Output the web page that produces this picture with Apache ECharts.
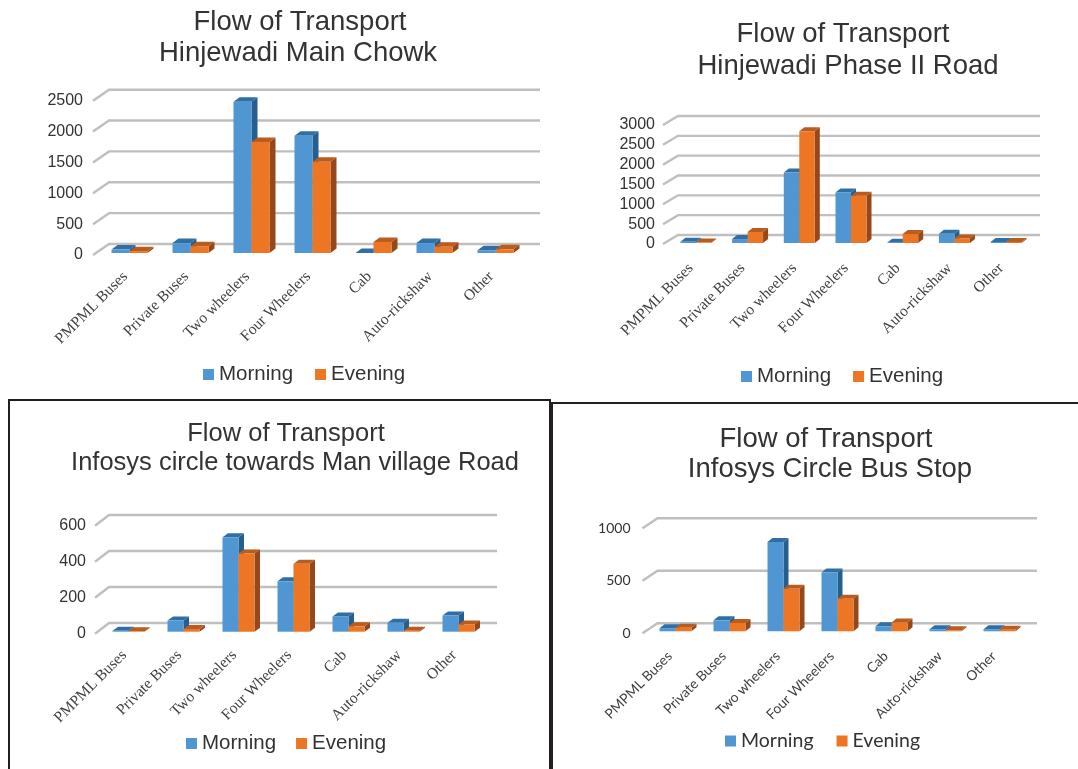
<!DOCTYPE html>
<html><head><meta charset="utf-8">
<style>html,body{margin:0;padding:0;background:#fff}#c{width:1078px;height:769px}</style>
<script src="https://cdn.jsdelivr.net/npm/echarts@6/dist/echarts.min.js"></script>
</head><body><div id="c"></div>
<script>
const categories = ['PMPML Buses','Private Buses','Two wheelers','Four Wheelers','Cab','Auto-rickshaw','Other'];
const seriesNames = ['Morning','Evening'];

const morningMainChowk = [55,160,2450,1900,0,160,45];
const eveningMainChowk = [30,110,1800,1480,180,100,60];
const ticksMainChowk = [0,500,1000,1500,2000,2500];

const morningPhase2 = [30,100,1780,1275,5,235,25];
const eveningPhase2 = [10,277,2820,1190,227,116,25];
const ticksPhase2 = [0,500,1000,1500,2000,2500,3000];

const morningManVillage = [5,62,525,280,85,50,90];
const eveningManVillage = [3,15,435,378,30,5,40];
const ticksManVillage = [0,200,400,600];

const morningBusStop = [30,105,850,560,48,20,20];
const eveningBusStop = [35,80,405,310,85,10,15];
const ticksBusStop = [0,500,1000];

const titleMainChowk = ['Flow of Transport','Hinjewadi Main Chowk'];
const titlePhase2 = ['Flow of Transport','Hinjewadi Phase II Road'];
const titleManVillage = ['Flow of Transport','Infosys circle towards Man village Road'];
const titleBusStop = ['Flow of Transport','Infosys Circle Bus Stop'];

const SANS='"Liberation Sans", Arial, sans-serif', SERIF='"Liberation Serif", serif', LATO='Lato, sans-serif';
const COL=[{f:'#5096d3',t:'#2f6fa6',s:'#255f8e'},{f:'#ec7623',t:'#b85c1f',s:'#94481c'}];

const panels=[
 {m:morningMainChowk,e:eveningMainChowk,ticks:ticksMainChowk,title:titleMainChowk,
  grid:{left:99,top:100.7,width:427,height:154.3},stub:6,dx:16,dy:11,backRight:540,lift:2,barW:18,margin:16,depth:[6,4.5],
  titlePos:[[300,9,27.5],[298,40,27.5]],legend:{left:203,top:364,size:20.5,gap:22,w:11,font:SANS},
  tickFont:[SANS,16],tickPad:5,catFont:[SERIF,15.5],catMargin:15,catPad:6},
 {m:morningPhase2,e:eveningPhase2,ticks:ticksPhase2,title:titlePhase2,
  grid:{left:670,top:125,width:362,height:119},stub:7,dx:15,dy:9,backRight:1040,lift:1,barW:15.5,margin:15,depth:[5,4],
  titlePos:[[843,21,27.5],[848,53,27.5]],legend:{left:741,top:366,size:20.5,gap:22,w:11,font:SANS},
  tickFont:[SANS,16],tickPad:8,catFont:[SERIF,15.5],catMargin:17,catPad:7},
 {m:morningManVillage,e:eveningManVillage,ticks:ticksManVillage,title:titleManVillage,
  grid:{left:101,top:525.7,width:385,height:108},stub:6,dx:14,dy:10.7,backRight:497,lift:2,barW:16,margin:15,depth:[5.5,4],
  titlePos:[[286,421,25.5],[295,450,25.5]],legend:{left:186,top:733,size:20.5,gap:20,w:11,font:SANS},
  tickFont:[SANS,16],tickPad:2,catFont:[SERIF,15.5],catMargin:15,catPad:6},
 {m:morningBusStop,e:eveningBusStop,ticks:ticksBusStop,title:titleBusStop,
  grid:{left:648.5,top:528.3,width:378,height:105},stub:6,dx:15,dy:10,backRight:1037,lift:2,barW:16,margin:18,depth:[5,4],
  titlePos:[[826,426,27.5],[830,456,27.5]],legend:{left:725,top:731,size:19.5,gap:23,w:11,font:LATO},
  tickFont:[LATO,14],tickPad:4,catFont:[LATO,13.8],catMargin:15,catPad:8}
];

function poly(points,fill){return {type:'polygon',shape:{points},style:{fill,stroke:null}};}

function barRenderer(p,idx){
  const c=COL[idx];
  return function(params,api){
    const pt=api.coord([api.value(0),api.value(1)]);
    const base=api.coord([api.value(0),0])[1]-p.lift;
    const top=pt[1]-p.lift;
    const x0=pt[0]+(idx===0?-p.barW:0), x1=x0+p.barW, d=p.depth[0], h=p.depth[1];
    return {type:'group',children:[
      poly([[x1,top],[x1+d,top-h],[x1+d,base-h],[x1,base]],c.s),
      poly([[x0,top],[x0+d,top-h],[x1+d,top-h],[x1,top]],c.t),
      poly([[x0,top],[x1,top],[x1,base],[x0,base]],c.f)
    ]};
  };
}
function gridRenderer(p){
  return function(params,api){
    const y=api.coord([0,api.value(1)])[1];
    const x=params.coordSys.x-p.stub;
    return {type:'polyline',shape:{points:[[x,y],[x+p.dx,y-p.dy],[p.backRight,y-p.dy]]},
      style:{stroke:'#bfbfbf',lineWidth:2.4,fill:null}};
  };
}

const option={animation:false,backgroundColor:'#fff',title:[],legend:[],grid:[],xAxis:[],yAxis:[],series:[],
 graphic:[
  {type:'polyline',shape:{points:[[9,769],[9,400],[550,400],[550,769]]},style:{stroke:'#231f20',lineWidth:2,fill:null},z:50},
  {type:'polyline',shape:{points:[[552,769],[552,403],[1078,403]]},style:{stroke:'#231f20',lineWidth:2,fill:null},z:50}
 ]};

panels.forEach((p,i)=>{
  p.title.forEach((t,k)=>{
    const tp=p.titlePos[k];
    option.title.push({text:t,left:tp[0],top:tp[1],textAlign:'center',padding:0,
      textStyle:{fontFamily:SANS,fontSize:tp[2],fontWeight:'normal',color:'#333333',lineHeight:tp[2]}});
  });
  option.legend.push({data:seriesNames,left:p.legend.left,top:p.legend.top,padding:0,itemGap:p.legend.gap,
    itemWidth:p.legend.w,itemHeight:p.legend.w,icon:'rect',selectedMode:false,
    textStyle:{fontFamily:p.legend.font,fontSize:p.legend.size,color:'#333333'}});
  option.grid.push(Object.assign({containLabel:false},p.grid));
  option.xAxis.push({type:'category',gridIndex:i,data:categories,
    axisLine:{show:false},axisTick:{show:false},splitLine:{show:false},
    axisLabel:{interval:0,rotate:45,margin:p.catMargin,padding:[0,p.catPad,0,0],color:'#404040',fontFamily:p.catFont[0],fontSize:p.catFont[1]}});
  const interval=p.ticks[1]-p.ticks[0];
  option.yAxis.push({type:'value',gridIndex:i,min:p.ticks[0],max:p.ticks[p.ticks.length-1],interval,
    axisLine:{show:false},axisTick:{show:false},splitLine:{show:false},
    axisLabel:{margin:p.margin,padding:[p.tickPad,0,0,0],formatter:v=>String(v),color:'#333333',fontFamily:p.tickFont[0],fontSize:p.tickFont[1]}});
  option.series.push({type:'custom',name:'gridlines'+i,silent:true,xAxisIndex:i,yAxisIndex:i,clip:false,z:1,
    data:p.ticks.map(t=>[0,t]),encode:{x:0,y:1},renderItem:gridRenderer(p)});
  [p.m,p.e].forEach((vals,idx)=>{
    option.series.push({type:'custom',name:seriesNames[idx],xAxisIndex:i,yAxisIndex:i,clip:false,z:2+idx,
      itemStyle:{color:COL[idx].f},data:vals.map((v,k)=>[k,v]),encode:{x:0,y:1},renderItem:barRenderer(p,idx)});
  });
});
echarts.init(document.getElementById('c'),null,{renderer:'canvas'}).setOption(option);
</script></body></html>
